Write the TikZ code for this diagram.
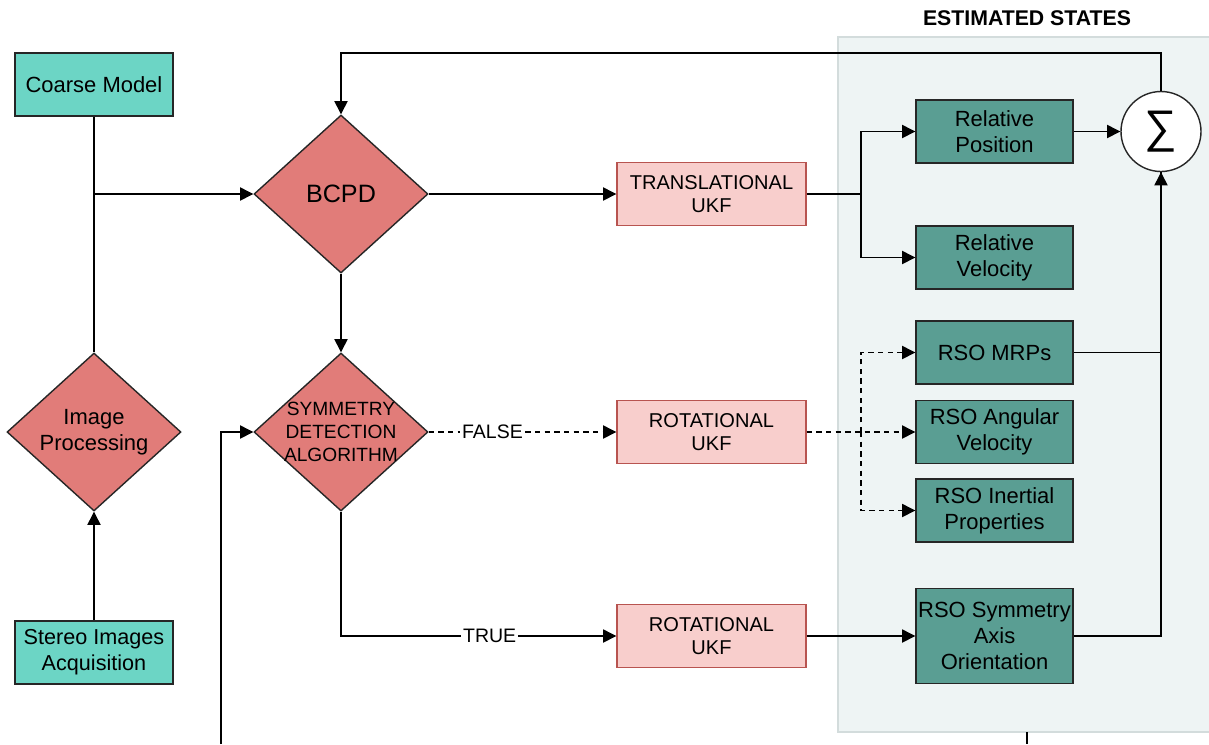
\documentclass[tikz,border=0pt]{standalone}
\usepackage{fontspec}
\setmainfont{Liberation Sans}
\usetikzlibrary{shapes.geometric,arrows.meta,positioning}

\definecolor{inputcol}{HTML}{6CD5C5}
\definecolor{decisioncol}{HTML}{E17C79}
\definecolor{ukffill}{HTML}{F8CECC}
\definecolor{ukfline}{HTML}{B85450}
\definecolor{statecol}{HTML}{5A9E93}
\definecolor{panelfill}{HTML}{EEF4F4}
\definecolor{panelline}{HTML}{D3DCDC}

\begin{document}
\begin{tikzpicture}[
  font=\fontsize{12.5}{15}\selectfont,
  inbox/.style={draw=black!85, line width=0.8pt, fill=inputcol, minimum width=3.16cm, minimum height=1.26cm, align=center},
  decision/.style={diamond, draw=black!85, line width=0.8pt, fill=decisioncol, minimum width=3.48cm, minimum height=3.16cm, inner sep=-8mm, align=center},
  ukf/.style={draw=ukfline, fill=ukffill, line width=0.8pt, minimum width=3.78cm, minimum height=1.26cm, align=center, font=\fontsize{11.4}{13.2}\selectfont},
  statebox/.style={draw=black!85, fill=statecol, line width=0.8pt, minimum width=3.14cm, minimum height=1.26cm, inner xsep=0.5pt, align=center},
  wire/.style={line width=0.75pt},
  link/.style={wire, -{Triangle[length=7.5pt,width=7.5pt]}},
  dashlink/.style={link, dash pattern=on 3pt off 2.5pt},
  tag/.style={fill=white, inner sep=1pt, font=\fontsize{11.1}{13}\selectfont}
]
\useasboundingbox (0,0) rectangle (24.18,-14.88);

% Estimated states panel
\fill[panelfill, draw=panelline, line width=0.8pt] (16.76,-0.74) rectangle (24.4,-14.64);
\node[font=\bfseries\fontsize{12.1}{14}\selectfont] (title) at (20.54,-0.36) {ESTIMATED STATES};

% Inputs
\node[inbox] (coarse) at (1.88,-1.69) {Coarse Model};
\node[inbox, font=\fontsize{12.3}{15}\selectfont] (stereo) at (1.88,-13.05) {Stereo Images\\Acquisition};
\node[decision] (improc) at (1.88,-8.64) {Image\\Processing};

% Decisions
\node[decision, font=\fontsize{14.3}{17}\selectfont] (bcpd) at (6.82,-3.88) {BCPD};
\node[decision, font=\fontsize{10.9}{13.3}\selectfont] (sym) at (6.82,-8.64) {SYMMETRY\\DETECTION\\ALGORITHM};

% Filters
\node[ukf] (tukf) at (14.23,-3.88) {TRANSLATIONAL\\UKF};
\node[ukf] (rukff) at (14.23,-8.64) {ROTATIONAL\\UKF};
\node[ukf] (rukft) at (14.23,-12.72) {ROTATIONAL\\UKF};

% States
\node[statebox] (relpos) at (19.89,-2.63) {Relative\\Position};
\node[statebox] (relvel) at (19.89,-5.15) {Relative\\Velocity};
\node[statebox] (mrp) at (19.89,-7.05) {RSO MRPs};
\node[statebox] (angvel) at (19.89,-8.64) {RSO Angular\\Velocity};
\node[statebox] (inert) at (19.89,-10.21) {RSO Inertial\\Properties};
\node[statebox, minimum height=1.9cm] (symax) at (19.89,-12.72) {RSO Symmetry\\Axis\\Orientation};
\node[circle, draw=black!85, fill=white, line width=0.8pt, minimum size=1.6cm, inner sep=0pt] (sig) at (23.22,-2.63) {\fontsize{26}{26}\selectfont\char"2211};

% Junction points
\coordinate (jn) at (1.88,-3.88);
\coordinate (top) at (6.82,-1.06);
\coordinate (tsplit) at (17.22,-3.88);
\coordinate (rsplit) at (17.22,-8.64);
\coordinate (loopin) at (4.42,-14.88);
\coordinate (outa) at (20.54,-14.64);
\coordinate (outb) at (20.54,-14.88);

% Connectors
\draw[wire] (coarse.south) -- (improc.north);
\draw[link] (jn) -- (bcpd.west);
\draw[link] (stereo.north) -- (improc.south);
\draw[link] (bcpd.east) -- (tukf.west);
\draw[link] (bcpd.south) -- (sym.north);
\draw[link] (loopin) |- (sym.west);
\draw[dashlink] (sym.east) -- node[tag, pos=0.34] {FALSE} (rukff.west);
\draw[link] (sym.south) |- node[tag, pos=0.77] {TRUE} (rukft.west);

\draw[wire] (tukf.east) -- (tsplit);
\draw[link] (tsplit) |- (relpos);
\draw[link] (tsplit) |- (relvel);

\draw[dashlink] (rukff.east) -- (angvel.west);
\draw[dashlink] (rsplit) |- (mrp);
\draw[dashlink] (rsplit) |- (inert);

\draw[link] (rukft.east) -- (symax.west);
\draw[link] (relpos.east) -- (sig.west);
\draw[wire] (mrp.east) -| (sig.south);
\draw[link] (symax.east) -| (sig.south);
\draw[link] (sig.north) |- (top) -- (bcpd.north);
\draw[wire] (outa) -- (outb);

\end{tikzpicture}
\end{document}
